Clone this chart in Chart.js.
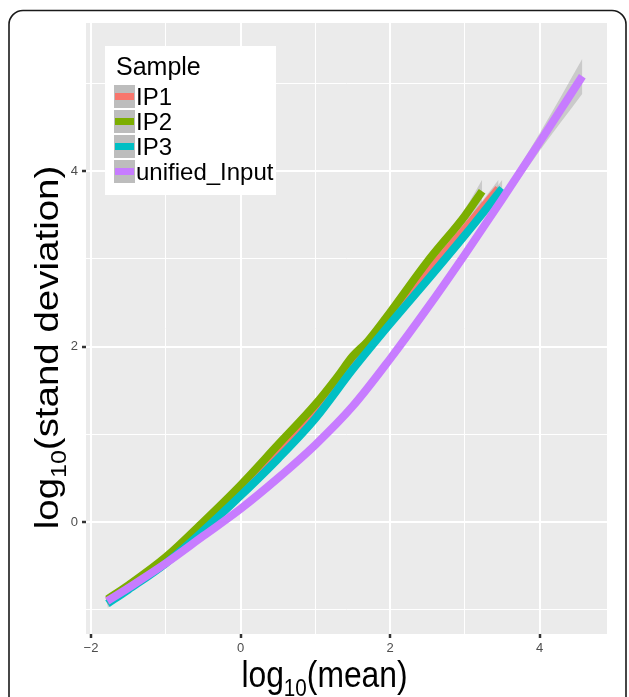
<!DOCTYPE html>
<html><head><meta charset="utf-8">
<script src="https://cdn.jsdelivr.net/npm/chart.js@4/dist/chart.umd.min.js"></script>
<style>html,body{margin:0;padding:0;background:#fff}canvas{display:block}</style>
</head><body>
<canvas id="c" width="629" height="697"></canvas>
<script>
// ---- data ----
const seriesNames = ['IP1', 'IP2', 'IP3', 'unified_Input'];
const seriesColors = ['#F8766D', '#7CAE00', '#00BFC4', '#C77CFF'];

const IP1_x  = [-1.78, -1.5, -1, -0.5, 0, 0.5, 1, 1.5, 2, 2.5, 3, 3.45];
const IP1_y  = [-0.9, -0.73, -0.43, -0.05, 0.35, 0.78, 1.25, 1.8, 2.33, 2.84, 3.34, 3.8];
const IP1_se = [0.05, 0.03, 0.02, 0.02, 0.02, 0.02, 0.02, 0.02, 0.03, 0.04, 0.06, 0.1];

const IP2_x  = [-1.78, -1.5, -1, -0.5, 0, 0.5, 1, 1.3, 1.5, 1.7, 2, 2.5, 3, 3.23];
const IP2_y  = [-0.88, -0.72, -0.4, 0.0, 0.42, 0.88, 1.34, 1.66, 1.89, 2.06, 2.39, 2.97, 3.49, 3.77];
const IP2_se = [0.05, 0.03, 0.02, 0.02, 0.02, 0.02, 0.02, 0.02, 0.02, 0.03, 0.03, 0.05, 0.08, 0.13];

const IP3_x  = [-1.78, -1.5, -1, -0.5, 0, 0.5, 1, 1.5, 2, 2.5, 3, 3.5];
const IP3_y  = [-0.93, -0.77, -0.47, -0.1, 0.3, 0.72, 1.18, 1.74, 2.26, 2.76, 3.27, 3.8];
const IP3_se = [0.05, 0.03, 0.02, 0.02, 0.02, 0.02, 0.02, 0.02, 0.03, 0.04, 0.06, 0.1];

const Input_x  = [-1.78, -1.5, -1, -0.5, 0, 0.5, 1, 1.5, 2, 2.5, 3, 3.5, 4, 4.57];
const Input_y  = [-0.9, -0.75, -0.47, -0.16, 0.15, 0.5, 0.88, 1.32, 1.86, 2.44, 3.05, 3.68, 4.33, 5.08];
const Input_se = [0.05, 0.03, 0.02, 0.02, 0.02, 0.02, 0.02, 0.02, 0.02, 0.03, 0.04, 0.06, 0.1, 0.2];

const xTickValues = [-2, -1, 0, 1, 2, 3, 4];
const xTickLabels = ['\u22122', '', '0', '', '2', '', '4'];
const yTickValues = [-1, 0, 1, 2, 3, 4, 5];
const yTickLabels = ['', '0', '', '2', '', '4', ''];

const legendTitle = 'Sample';
const xTitleRest = '(mean)';
const yTitleRest = '(stand deviation)';

// ---- build datasets ----
const series = [
  {x: IP1_x, y: IP1_y, se: IP1_se},
  {x: IP2_x, y: IP2_y, se: IP2_se},
  {x: IP3_x, y: IP3_y, se: IP3_se},
  {x: Input_x, y: Input_y, se: Input_se}
];
const datasets = [];
series.forEach((s, i) => {
  const base = (3 - i) * 3 + 1;
  const common = {pointRadius: 0, tension: 0.4, cubicInterpolationMode: 'monotone', borderCapStyle: 'butt'};
  datasets.push(Object.assign({}, common, {
    label: seriesNames[i] + ' upper', data: s.x.map((x, k) => ({x, y: s.y[k] + s.se[k]})),
    borderWidth: 0, borderColor: 'rgba(0,0,0,0)', fill: false, order: base + 2
  }));
  datasets.push(Object.assign({}, common, {
    label: seriesNames[i] + ' lower', data: s.x.map((x, k) => ({x, y: s.y[k] - s.se[k]})),
    borderWidth: 0, borderColor: 'rgba(0,0,0,0)', backgroundColor: 'rgba(153,153,153,0.4)',
    fill: '-1', order: base + 1
  }));
  datasets.push(Object.assign({}, common, {
    label: seriesNames[i], data: s.x.map((x, k) => ({x, y: s.y[k]})),
    borderWidth: 8, borderColor: seriesColors[i], fill: false, order: base
  }));
});

const FONT = '"Liberation Sans", Arial, Helvetica, sans-serif';

function drawLogTitle(ctx, rest, size, subSize, subDrop) {
  ctx.font = size + 'px ' + FONT;
  const w1 = ctx.measureText('log').width;
  const w3 = ctx.measureText(rest).width;
  ctx.font = subSize + 'px ' + FONT;
  const w2 = ctx.measureText('10').width;
  const total = w1 + w2 + w3;
  let x = -total / 2;
  ctx.font = size + 'px ' + FONT;
  ctx.fillText('log', x, 0); x += w1;
  ctx.font = subSize + 'px ' + FONT;
  ctx.fillText('10', x, subDrop); x += w2;
  ctx.font = size + 'px ' + FONT;
  ctx.fillText(rest, x, 0);
}

const decor = {
  id: 'decor',
  beforeDraw(chart) {
    const {ctx, chartArea: a} = chart;
    ctx.save();
    ctx.fillStyle = '#ffffff';
    ctx.fillRect(0, 0, chart.width, chart.height);
    ctx.fillStyle = '#EBEBEB';
    ctx.fillRect(a.left, a.top, a.right - a.left, a.bottom - a.top);
    ctx.restore();
  },
  afterDraw(chart) {
    const ctx = chart.ctx;
    ctx.save();
    ctx.fillStyle = '#000';
    ctx.textBaseline = 'alphabetic';
    ctx.textAlign = 'left';
    // x title
    ctx.save();
    ctx.translate(324.5, 687);
    ctx.scale(0.86, 1);
    drawLogTitle(ctx, xTitleRest, 37, 24, 9);
    ctx.restore();
    // y title
    ctx.save();
    ctx.translate(58, 347.5);
    ctx.rotate(-Math.PI / 2);
    ctx.scale(1.04, 0.9);
    drawLogTitle(ctx, yTitleRest, 37, 24, 9);
    ctx.restore();

    // legend
    ctx.fillStyle = '#ffffff';
    ctx.fillRect(105, 46, 171, 149);
    ctx.fillStyle = '#000';
    ctx.font = '25px ' + FONT;
    ctx.fillText(legendTitle, 116, 75);
    seriesNames.forEach((name, i) => {
      const top = 85 + i * 25;
      ctx.fillStyle = '#BDBDBD';
      ctx.fillRect(114, top, 21, 23);
      ctx.fillStyle = seriesColors[i];
      ctx.fillRect(115, top + 8, 19, 7);
      ctx.fillStyle = '#000';
      ctx.font = '24px ' + FONT;
      ctx.fillText(name, 136, top + 20);
    });

    // outer frame
    ctx.strokeStyle = '#1a1a1a';
    ctx.lineWidth = 1.6;
    ctx.beginPath();
    ctx.roundRect(9, 10.5, 617, 720, 14);
    ctx.stroke();
    ctx.restore();
  }
};

function isMajor(v) { return Math.abs(v % 2) < 1e-9; }

new Chart(document.getElementById('c'), {
  type: 'line',
  data: {datasets},
  options: {
    responsive: false,
    animation: false,
    devicePixelRatio: 1,
    layout: {padding: {left: 0, top: 23, right: 22, bottom: 0}},
    plugins: {legend: {display: false}, tooltip: {enabled: false}},
    scales: {
      x: {
        type: 'linear', min: -2.067, max: 4.90,
        afterBuildTicks: s => { s.ticks = xTickValues.map(v => ({value: v})); },
        afterFit: s => { s.height = 63; },
        border: {display: false},
        grid: {
          color: '#FFFFFF',
          lineWidth: c => (c.tick && isMajor(c.tick.value)) ? 2 : 1,
          tickColor: c => (c.tick && isMajor(c.tick.value)) ? '#333333' : 'rgba(0,0,0,0)',
          tickWidth: 2.5, tickLength: 4, drawTicks: true
        },
        ticks: {
          autoSkip: false, maxRotation: 0, padding: 3, color: '#4D4D4D',
          font: {family: FONT, size: 13},
          callback: (v) => { const i = xTickValues.indexOf(v); return i >= 0 ? xTickLabels[i] : ''; }
        }
      },
      y: {
        type: 'linear', min: -1.276, max: 5.687,
        afterBuildTicks: s => { s.ticks = yTickValues.map(v => ({value: v})); },
        afterFit: s => { s.width = 86; },
        border: {display: false},
        grid: {
          color: '#FFFFFF',
          lineWidth: c => (c.tick && isMajor(c.tick.value)) ? 2 : 1,
          tickColor: c => (c.tick && isMajor(c.tick.value)) ? '#333333' : 'rgba(0,0,0,0)',
          tickWidth: 2.5, tickLength: 4, drawTicks: true
        },
        ticks: {
          autoSkip: false, padding: 4, color: '#4D4D4D',
          font: {family: FONT, size: 13},
          callback: (v) => { const i = yTickValues.indexOf(v); return i >= 0 ? yTickLabels[i] : ''; }
        }
      }
    }
  },
  plugins: [decor]
});
</script>
</body></html>
